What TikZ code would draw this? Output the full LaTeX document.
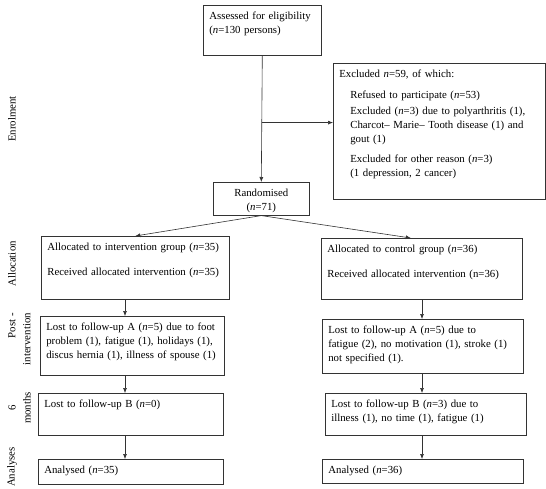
\documentclass[tikz,border=0pt]{standalone}
\usepackage{fontspec}
\setmainfont{Liberation Serif}
\usetikzlibrary{positioning}
\usetikzlibrary{calc}
\usetikzlibrary{arrows, arrows.meta}

\tikzset{
  flowbox/.style={draw=black!80, line width=0.6pt, anchor=north west, align=left,
    inner xsep=6pt, inner ysep=5pt, text height=9.5pt, font=\fontsize{10.8}{14}\selectfont},
  stagelabel/.style={rotate=90, inner sep=0pt, font=\fontsize{10.8}{15}\selectfont},
  flowarrow/.style={line width=0.6pt, draw=black!80, -{Latex[length=5pt,width=4pt]}},
}

\begin{document}
\begin{tikzpicture}[x=1pt, y=-1pt]
  \useasboundingbox (0,0) rectangle (546,489);

  % enrolment
  \node[flowbox, text width=106pt, text depth=30.5pt] (assess) at (203,5)
    {Assessed for eligibility\\(\textit{n}=130 persons)};
  \node[flowbox, text width=200pt, text depth=116.5pt] (excl) at (333,63)
    {Excluded \textit{n}=59, of which:\\[7pt]
     \hspace*{11pt}Refused to participate (\textit{n}=53)\\[2pt]
     \hspace*{11pt}Excluded (\textit{n}=3) due to polyarthritis (1),\\
     \hspace*{11pt}Charcot– Marie– Tooth disease (1) and\\
     \hspace*{11pt}gout (1)\\[6pt]
     \hspace*{11pt}Excluded for other reason (\textit{n}=3)\\
     \hspace*{11pt}(1 depression, 2 cancer)};
  \node[flowbox, align=center, text width=84pt, text depth=13.5pt] (rand) at (213,182)
    {Randomised\\(\textit{n}=71)};

  % allocation
  \node[flowbox, text width=176pt, text depth=43.5pt] (intalloc) at (41,236)
    {Allocated to intervention group (\textit{n}=35)\\[11pt]
     Received allocated intervention (\textit{n}=35)};
  \node[flowbox, text width=189pt, text depth=41.5pt] (ctrlalloc) at (321,238)
    {Allocated to control group (\textit{n}=36)\\[11pt]
     Received allocated intervention (n=36)};

  % post-intervention
  \node[flowbox, text width=172pt, text depth=39.5pt] (intpost) at (40,316)
    {Lost to follow-up A (\textit{n}=5) due to foot\\
     problem (1), fatigue (1), holidays (1),\\
     discus hernia (1), illness of spouse (1)};
  \node[flowbox, text width=189pt, text depth=34.5pt] (ctrlpost) at (322,319)
    {Lost to follow-up A (\textit{n}=5) due to\\
     fatigue (2), no motivation (1), stroke (1)\\
     not specified (1).};

  % 6 months
  \node[flowbox, text width=173pt, text depth=22.5pt] (intsix) at (38,393)
    {Lost to follow-up B (\textit{n}=0)};
  \node[flowbox, text width=189pt, text depth=22.5pt] (ctrlsix) at (325,393)
    {Lost to follow-up B (\textit{n}=3) due to\\
     illness (1), no time (1), fatigue (1)};

  % analyses
  \node[flowbox, text width=173pt, text depth=5.5pt] (intanal) at (38,459)
    {Analysed (\textit{n}=35)};
  \node[flowbox, text width=189pt, text depth=4.5pt] (ctrlanal) at (322,459)
    {Analysed (\textit{n}=36)};

  % stage labels
  \node[stagelabel] (lblenrol) at (12,119) {Enrolment};
  \node[stagelabel] (lblalloc) at (12,264) {Allocation};
  \node[stagelabel, align=right, anchor=east] (lblpost) at (19.5,313) {Post -\\intervention};
  \node[stagelabel, align=center] (lblsix) at (19.5,408) {6\\months};
  \node[stagelabel] (lblanal) at (12,467) {Analyses};

  % connectors
  \path (assess.south) -- (rand.north) coordinate[pos=0.53] (split);
  \coordinate (intaxis) at (125,0);
  \coordinate (ctrlaxis) at (422,0);
  \draw[flowarrow] (assess.south) -- (rand.north);
  \draw[flowarrow] (split) -- (split -| excl.west);
  \draw[flowarrow] (rand.south) -- (intalloc.north);
  \draw[flowarrow] (rand.south) -- ([xshift=-11pt]ctrlalloc.north);
  \draw[flowarrow] (intalloc.south -| intaxis) -- (intpost.north -| intaxis);
  \draw[flowarrow] (intpost.south -| intaxis) -- (intsix.north -| intaxis);
  \draw[flowarrow] (intsix.south -| intaxis) -- (intanal.north -| intaxis);
  \draw[flowarrow] (ctrlalloc.south -| ctrlaxis) -- (ctrlpost.north -| ctrlaxis);
  \draw[flowarrow] (ctrlpost.south -| ctrlaxis) -- (ctrlsix.north -| ctrlaxis);
  \draw[flowarrow] (ctrlsix.south -| ctrlaxis) -- (ctrlanal.north -| ctrlaxis);
\end{tikzpicture}
\end{document}
